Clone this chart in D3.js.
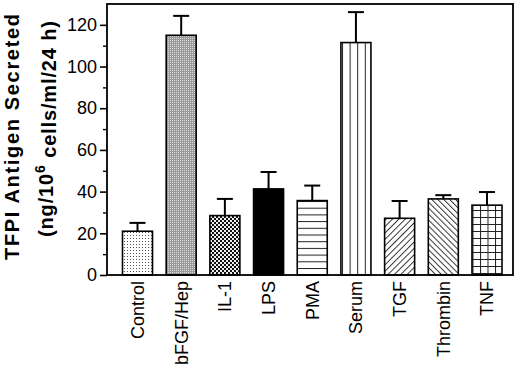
<!DOCTYPE html>
<html>
<head>
<meta charset="utf-8">
<script src="https://cdn.jsdelivr.net/npm/d3@7"></script>
<style>
  html, body { margin: 0; padding: 0; background: #fff; }
  svg { display: block; font-family: "Liberation Sans", Arial, Helvetica, sans-serif; }
</style>
</head>
<body>
<div id="chart"></div>
<script>
// data
const categories = ["Control", "bFGF/Hep", "IL-1", "LPS", "PMA", "Serum", "TGF", "Thrombin", "TNF"];
const means = [21, 115, 28.5, 41.3, 35.7, 111.5, 27.2, 36.5, 33.5];
const errors = [4, 9.3, 8, 8.1, 7.2, 14.6, 8.3, 1.8, 6.3];
const fills = ["dots", "finegrid", "checker", "solid", "hlines", "vlines", "bslash", "fslash", "grid"];
const yTicks = [0, 20, 40, 60, 80, 100, 120];
const yMinorTicks = [10, 30, 50, 70, 90, 110];

const width = 520, height = 366;
const frame = { left: 107, right: 513, top: 4, bottom: 275 };

const svg = d3.select("#chart").append("svg")
    .attr("width", width)
    .attr("height", height);

// hatch patterns
const defs = svg.append("defs");

function pattern(id, w, h) {
    return defs.append("pattern")
        .attr("id", id)
        .attr("patternUnits", "userSpaceOnUse")
        .attr("width", w)
        .attr("height", h);
}

let p = pattern("dots", 3, 3);
p.append("rect").attr("width", 3).attr("height", 3).attr("fill", "#fff");
p.append("rect").attr("x", 1).attr("y", 1).attr("width", 1).attr("height", 1).attr("fill", "#555");

p = pattern("finegrid", 2, 2);
p.append("rect").attr("width", 2).attr("height", 2).attr("fill", "#999");
p.append("rect").attr("width", 1).attr("height", 1).attr("fill", "#ddd");

p = pattern("checker", 4, 4);
p.append("rect").attr("width", 4).attr("height", 4).attr("fill", "#eee");
p.append("rect").attr("width", 2).attr("height", 2).attr("fill", "#111");
p.append("rect").attr("x", 2).attr("y", 2).attr("width", 2).attr("height", 2).attr("fill", "#111");

p = pattern("hlines", 10, 6.7);
p.append("rect").attr("width", 10).attr("height", 6.7).attr("fill", "#fff");
p.append("line").attr("x1", 0).attr("x2", 10).attr("y1", 0.5).attr("y2", 0.5)
    .attr("stroke", "#222").attr("stroke-width", 1);

p = pattern("vlines", 7.6, 10);
p.append("rect").attr("width", 7.6).attr("height", 10).attr("fill", "#fff");
p.append("line").attr("x1", 0.5).attr("x2", 0.5).attr("y1", 0).attr("y2", 10)
    .attr("stroke", "#222").attr("stroke-width", 1);

p = pattern("bslash", 4.5, 4.5).attr("patternTransform", "rotate(45)");
p.append("rect").attr("width", 4.5).attr("height", 4.5).attr("fill", "#fff");
p.append("line").attr("x1", 0.5).attr("x2", 0.5).attr("y1", 0).attr("y2", 4.5)
    .attr("stroke", "#222").attr("stroke-width", 0.9);

p = pattern("fslash", 4.2, 4.2).attr("patternTransform", "rotate(-45)");
p.append("rect").attr("width", 4.2).attr("height", 4.2).attr("fill", "#fff");
p.append("line").attr("x1", 0.5).attr("x2", 0.5).attr("y1", 0).attr("y2", 4.2)
    .attr("stroke", "#222").attr("stroke-width", 0.9);

p = pattern("grid", 7.5, 7);
p.append("rect").attr("width", 7.5).attr("height", 7).attr("fill", "#fff");
p.append("line").attr("x1", 0.5).attr("x2", 0.5).attr("y1", 0).attr("y2", 7)
    .attr("stroke", "#222").attr("stroke-width", 1);
p.append("line").attr("x1", 0).attr("x2", 7.5).attr("y1", 0.5).attr("y2", 0.5)
    .attr("stroke", "#222").attr("stroke-width", 1);

// scales
const x = d3.scaleBand()
    .domain(categories)
    .range([122.5, 502])
    .paddingInner(0.313)
    .paddingOuter(0);

const y = d3.scaleLinear()
    .domain([0, 130])
    .range([frame.bottom, frame.top]);

const data = categories.map((c, i) => ({ cat: c, mean: means[i], err: errors[i], fill: fills[i] }));

// bars
svg.append("g")
    .selectAll("rect")
    .data(data)
    .enter().append("rect")
    .attr("x", d => x(d.cat))
    .attr("y", d => y(d.mean))
    .attr("width", x.bandwidth())
    .attr("height", d => y(0) - y(d.mean))
    .attr("fill", d => d.fill === "solid" ? "#000" : `url(#${d.fill})`)
    .attr("stroke", "#000")
    .attr("stroke-width", 1.6);

// error bars (upper only)
const eb = svg.append("g").attr("stroke", "#000").attr("stroke-width", 2);
eb.selectAll("line.stem")
    .data(data)
    .enter().append("line")
    .attr("class", "stem")
    .attr("x1", d => x(d.cat) + x.bandwidth() / 2)
    .attr("x2", d => x(d.cat) + x.bandwidth() / 2)
    .attr("y1", d => y(d.mean))
    .attr("y2", d => y(d.mean + d.err));
eb.selectAll("line.cap")
    .data(data)
    .enter().append("line")
    .attr("class", "cap")
    .attr("x1", d => x(d.cat) + x.bandwidth() / 2 - 8)
    .attr("x2", d => x(d.cat) + x.bandwidth() / 2 + 8)
    .attr("y1", d => y(d.mean + d.err))
    .attr("y2", d => y(d.mean + d.err));

// frame
svg.append("rect")
    .attr("x", frame.left)
    .attr("y", frame.top)
    .attr("width", frame.right - frame.left)
    .attr("height", frame.bottom - frame.top)
    .attr("fill", "none")
    .attr("stroke", "#000")
    .attr("stroke-width", 1.8);

// y axis
const yAxis = svg.append("g")
    .attr("transform", `translate(${frame.left},0)`)
    .call(d3.axisLeft(y).tickValues(yTicks).tickSize(7).tickPadding(3).tickSizeOuter(0));
yAxis.select(".domain").remove();
yAxis.selectAll(".tick line").attr("stroke-width", 1.6);
yAxis.selectAll(".tick text")
    .attr("font-size", "18px")
    .attr("font-family", "Liberation Sans, Arial, sans-serif")
    .attr("fill", "#000");

const yMinor = svg.append("g")
    .attr("transform", `translate(${frame.left},0)`)
    .call(d3.axisLeft(y).tickValues(yMinorTicks).tickSize(4).tickFormat(""));
yMinor.select(".domain").remove();
yMinor.selectAll(".tick line").attr("stroke-width", 1.4);

// x labels
svg.append("g")
    .selectAll("text")
    .data(categories)
    .enter().append("text")
    .attr("transform", d => `translate(${x(d) + x.bandwidth() / 2},281) rotate(-90)`)
    .attr("text-anchor", "end")
    .attr("dy", "0.35em")
    .attr("font-size", "18px")
    .text(d => d);

// y title
svg.append("text")
    .attr("transform", "translate(19,137) rotate(-90)")
    .attr("text-anchor", "middle")
    .attr("font-size", "20px")
    .attr("font-weight", "bold")
    .attr("textLength", 246)
    .attr("lengthAdjust", "spacing")
    .text("TFPI Antigen Secreted");

const t2 = svg.append("text")
    .attr("transform", "translate(53,129) rotate(-90)")
    .attr("text-anchor", "middle")
    .attr("font-size", "20px")
    .attr("font-weight", "bold")
    .attr("textLength", 216)
    .attr("lengthAdjust", "spacing");
t2.append("tspan").text("(ng/10");
t2.append("tspan").attr("dy", "-0.55em").attr("font-size", "14px").text("6");
t2.append("tspan").attr("dy", "0.55em").text(" cells/ml/24 h)");
</script>
</body>
</html>
